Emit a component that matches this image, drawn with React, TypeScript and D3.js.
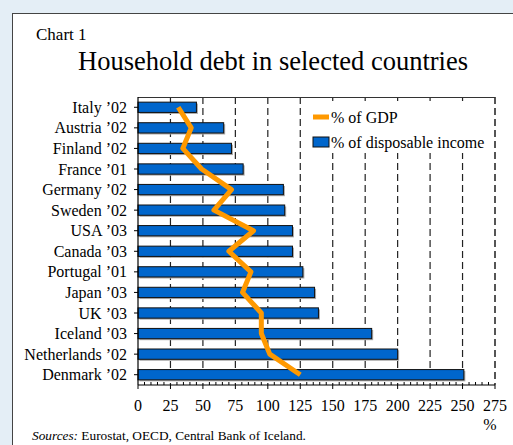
import React from "react";
import * as d3 from "d3";

const categories = [
  "Italy ’02", "Austria ’02", "Finland ’02", "France ’01", "Germany ’02", "Sweden ’02",
  "USA ’03", "Canada ’03", "Portugal ’01", "Japan ’03", "UK ’03", "Iceland ’03",
  "Netherlands ’02", "Denmark ’02",
];
const disposableIncome = [45, 66, 72, 81, 112, 113, 119, 119, 127, 136, 139, 180, 200, 251];
const gdp = [31, 41, 34.5, 49, 72, 58.5, 89, 70, 87, 80.5, 95, 95, 101.5, 125];
const xTicks = [0, 25, 50, 75, 100, 125, 150, 175, 200, 225, 250, 275];

const W = 513, H = 445;
const L = 138, R = 495, T = 97, B = 385;
const serif = "'Liberation Serif', 'Times New Roman', serif";

export default function App() {
  const x = d3.scaleLinear().domain([0, 275]).range([L, R]);
  const y = d3.scaleBand().domain(categories).range([T, B]).paddingInner(0.5).paddingOuter(0.25);
  const bw = y.bandwidth();
  const line = d3.line<number>()
    .x((d) => x(d))
    .y((_, i) => (y(categories[i]) as number) + bw / 2);
  const minor = d3.range(0, 276, 5).filter((v) => v % 25 !== 0);

  return (
    <svg width={W} height={H} style={{ position: "absolute", left: 0, top: 0 }} fontFamily={serif}>
      <rect x={0} y={0} width={W} height={H} fill="#e4eef6" />
      <rect x={12.5} y={13.5} width={520} height={450} fill="#fff" stroke="#444" strokeWidth={1} />
      <text x={36} y={40} fontSize={17}>Chart 1</text>
      <text x={78} y={70} fontSize={26.5}>Household debt in selected countries</text>

      {/* gridlines */}
      {xTicks.slice(1, -1).map((t) => (
        <line key={t} x1={x(t)} x2={x(t)} y1={T} y2={B} stroke="#222" strokeWidth={1.2} strokeDasharray="7,4" />
      ))}
      <line x1={R} x2={R} y1={T} y2={B} stroke="#555" strokeWidth={2} strokeDasharray="7,4" />
      <line x1={L} x2={R} y1={T + 0.5} y2={T + 0.5} stroke="#333" strokeWidth={1} />

      {/* legend background */}
      <rect x={305} y={101} width={188} height={52} fill="#fff" />

      {/* bars */}
      {categories.map((c, i) => (
        <g key={c}>
          <rect x={x(0) + 1.5} y={(y(c) as number) + 1.5} width={x(disposableIncome[i]) - x(0)} height={bw} fill="#aaa" />
          <rect x={x(0)} y={y(c)} width={x(disposableIncome[i]) - x(0)} height={bw} fill="#0066cc" stroke="#111" strokeWidth={1} />
        </g>
      ))}

      {/* gdp line */}
      <path d={line(gdp) || ""} fill="none" stroke="#ff9900" strokeWidth={5} strokeLinejoin="round" />

      {/* y axis */}
      <line x1={L} x2={L} y1={T} y2={B} stroke="#000" strokeWidth={1.2} />
      {categories.map((c) => {
        const cy = (y(c) as number) + bw / 2;
        return (
          <g key={c}>
            <line x1={L - 4} x2={L} y1={cy} y2={cy} stroke="#000" />
            <text x={127} y={cy} dy="0.35em" textAnchor="end" fontSize={16}>{c}</text>
          </g>
        );
      })}

      {/* x axis */}
      <line x1={L} x2={R} y1={B} y2={B} stroke="#000" strokeWidth={1.2} />
      {minor.map((t) => (
        <line key={t} x1={x(t)} x2={x(t)} y1={B - 3} y2={B} stroke="#000" />
      ))}
      {xTicks.map((t) => (
        <g key={t}>
          <line x1={x(t)} x2={x(t)} y1={B} y2={B + 4} stroke="#000" />
          <text x={x(t)} y={411} textAnchor="middle" fontSize={16}>{t}</text>
        </g>
      ))}
      <text x={490} y={430} textAnchor="middle" fontSize={16}>%</text>

      {/* legend */}
      <line x1={313} x2={329} y1={117} y2={117} stroke="#ff9900" strokeWidth={5} />
      <text x={331} y={117} dy="0.35em" fontSize={16}>% of GDP</text>
      <rect x={313} y={137} width={16} height={10} fill="#0066cc" stroke="#111" />
      <text x={331} y={142} dy="0.35em" fontSize={16}>% of disposable income</text>

      <text x={32} y={440} fontSize={13.3}>
        <tspan fontStyle="italic">Sources:</tspan> Eurostat, OECD, Central Bank of Iceland.
      </text>
    </svg>
  );
}
